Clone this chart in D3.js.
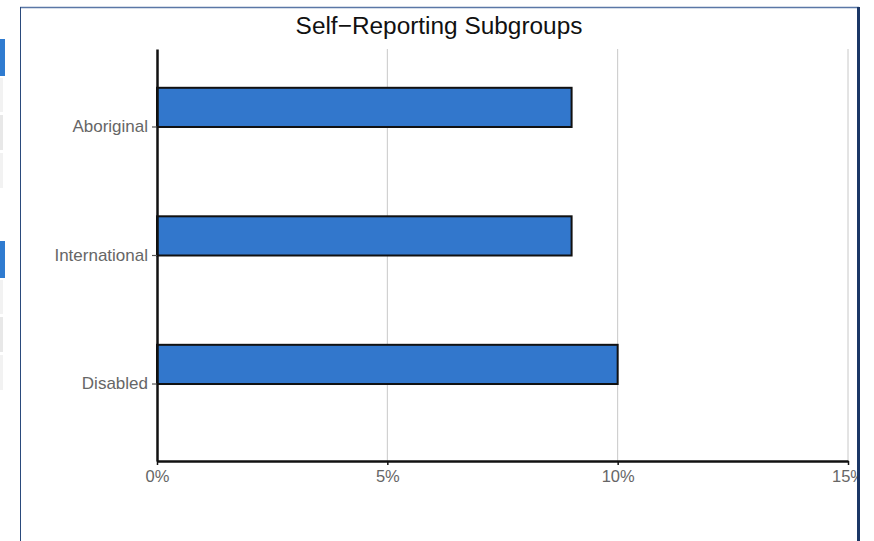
<!DOCTYPE html>
<html><head><meta charset="utf-8">
<script src="https://cdn.jsdelivr.net/npm/d3@7"></script>
<style>
html,body{margin:0;padding:0;background:#fff;}
svg{display:block;font-family:"Liberation Sans",Arial,sans-serif;}
</style></head>
<body>
<svg id="c" width="874" height="541"></svg>
<script>
const categories = ["Aboriginal", "International", "Disabled"];
const values = [9, 9, 10];
const xTicks = [0, 5, 10, 15];
const title = "Self\u2212Reporting Subgroups";

(function(){
const svg = d3.select("#c");

// side UI fragments
const sideBlocks = [
  {y:39,h:37,c:"#2f7bd0"},{y:78,h:34,c:"#f2f2f2"},{y:115,h:35,c:"#e8e8e8"},{y:153,h:35,c:"#f2f2f2"},
  {y:241,h:37,c:"#2f7bd0"},{y:280,h:34,c:"#f2f2f2"},{y:317,h:35,c:"#e8e8e8"},{y:355,h:35,c:"#f2f2f2"}
];
svg.selectAll("rect.side").data(sideBlocks).enter().append("rect")
  .attr("x",0).attr("y",d=>d.y).attr("width",d=>d.c==="#2f7bd0"?5:3).attr("height",d=>d.h).attr("fill",d=>d.c);

const pLeft = 157, pRight = 848, pTop = 49, pBottom = 461;
const x = d3.scaleLinear().domain([0,15]).range([pLeft,pRight]);
const y = d3.scalePoint().domain(categories).range([pTop,pBottom]).padding(0.603);
const barH = y.step()*0.305;

// grid
svg.append("g").selectAll("line").data(xTicks.filter(t=>t>0)).enter().append("line")
  .attr("x1",d=>x(d)).attr("x2",d=>x(d)).attr("y1",pTop).attr("y2",pBottom)
  .attr("stroke","#c8c8c8").attr("stroke-width",1);

// bars
svg.append("g").selectAll("rect").data(categories).enter().append("rect")
  .attr("x",x(0)).attr("y",d=>y(d)-barH+0.5)
  .attr("width",(d,i)=>x(values[i])-x(0)).attr("height",barH)
  .attr("fill","#3277cc").attr("stroke","#111").attr("stroke-width",2);

// x axis
const gx = svg.append("g").attr("transform",`translate(0,${pBottom})`)
  .call(d3.axisBottom(x).tickValues(xTicks).tickFormat(d=>d+"%").tickSize(4).tickSizeOuter(0));
gx.select(".domain").attr("stroke","#111").attr("stroke-width",2.5);
gx.selectAll(".tick line").attr("stroke","#111").attr("stroke-width",1.5);
gx.selectAll(".tick text").attr("fill","#666").attr("font-size",16.5).attr("font-family","'Liberation Sans',Arial,sans-serif").attr("dy",0).attr("y",21);

// y axis
const gy = svg.append("g").attr("transform",`translate(${pLeft},0)`)
  .call(d3.axisLeft(y).tickSize(5).tickSizeOuter(0));
gy.select(".domain").attr("stroke","#111").attr("stroke-width",2.5);
gy.selectAll(".tick line").attr("stroke","#555").attr("stroke-width",1.2);
gy.selectAll(".tick text").attr("fill","#666").attr("font-size",17).attr("font-family","'Liberation Sans',Arial,sans-serif").attr("x",-9);

// title
svg.append("text").attr("x",439).attr("y",34).attr("text-anchor","middle")
  .attr("font-size",24.4).attr("fill","#111").text(title);

// mask beyond the frame, then the frame
svg.append("rect").attr("x",857).attr("y",0).attr("width",17).attr("height",541).attr("fill","#fff");
svg.append("line").attr("x1",20).attr("x2",859).attr("y1",7.5).attr("y2",7.5).attr("stroke","#5a77a6").attr("stroke-width",1.5);
svg.append("line").attr("x1",20.5).attr("x2",20.5).attr("y1",7).attr("y2",541).attr("stroke","#2a4a7c").attr("stroke-width",1);
svg.append("line").attr("x1",858.5).attr("x2",858.5).attr("y1",7).attr("y2",541).attr("stroke","#1b3766").attr("stroke-width",3);
})();
</script>
</body></html>
